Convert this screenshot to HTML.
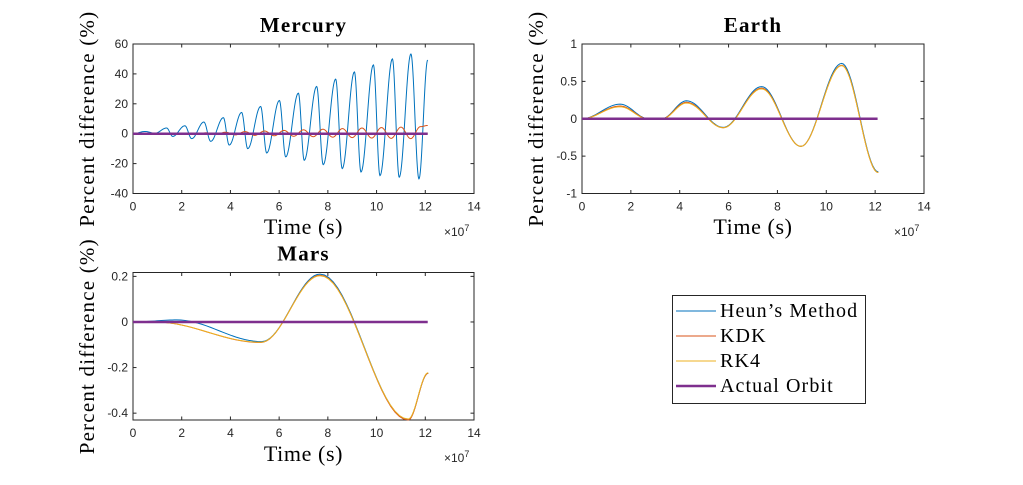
<!DOCTYPE html>
<html><head><meta charset="utf-8"><style>
body{margin:0;background:#fff;width:1023px;height:480px;overflow:hidden}
svg text{font-family:"Liberation Sans",sans-serif}
.tk{font-size:12px;fill:#262626}
.ser{font-family:"Liberation Serif",serif !important;fill:#000}
</style></head><body>
<svg id="chart" width="1023" height="480" viewBox="0 0 1023 480" xmlns="http://www.w3.org/2000/svg"></svg>
<script>
// Mercury data (time in 1e7 s, percent difference) - extrema points
const mercHeunT=[0,0.5,0.9,1.38,1.63,2.13,2.41,2.91,3.19,3.71,3.95,4.46,4.71,5.24,5.49,6.01,6.27,6.79,7.03,7.54,7.81,8.32,8.59,9.09,9.36,9.87,10.14,10.65,10.93,11.41,11.74,12.1];
const mercHeunV=[0,1.5,0.3,3.8,-1.8,5.3,-3.3,7.8,-5.1,10.7,-7.6,14.2,-10,18.2,-12.9,22.2,-15.5,27.1,-17.8,31.6,-20.7,36.5,-23.3,41.3,-25.6,46,-28,50,-29.1,53.3,-30.2,49.3];
const mercKdkT=[0,2.2,2.6,3.0,3.4,3.8,4.2,4.6,5.0,5.4,5.8,6.2,6.6,7.0,7.4,7.8,8.2,8.6,9.0,9.4,9.8,10.2,10.6,11.0,11.4,11.8,12.1];
const mercKdkV=[0,0.3,-0.2,0.6,-0.5,1.0,-0.8,1.4,-1.1,1.8,-1.4,2.2,-1.7,2.6,-2.0,3.0,-2.3,3.4,-2.6,3.8,-2.9,4.1,-3.1,4.4,-3.3,4.7,5.5];
const mercRk4T=[0,12.1];
const mercRk4V=[0,0.3];
// Earth data
const earthHeunT=[0,1.56,2.72,3.26,4.28,5.78,7.35,8.96,10.63,12.13];
const earthHeunV=[0,0.195,0,0,0.24,-0.115,0.43,-0.37,0.74,-0.71];
const earthKdkT=[0,1.56,2.72,3.26,4.28,5.78,7.35,8.96,10.63,12.13];
const earthKdkV=[0,0.17,0,0,0.22,-0.12,0.41,-0.37,0.715,-0.72];
const earthRk4V=[0,0.16,-0.005,-0.005,0.21,-0.12,0.40,-0.37,0.71,-0.72];
// Mars data
const marsHeunT=[0,1.79,5.28,7.68,11.3,12.12];
const marsHeunV=[0,0.009,-0.086,0.21,-0.427,-0.225];
const marsKdkT=[0,0.9,5.25,7.68,11.3,12.12];
const marsKdkV=[0,0,-0.09,0.205,-0.43,-0.225];
// ticks
const xTicks=[0,2,4,6,8,10,12,14];
const mercYTicks=[-40,-20,0,20,40,60];
const earthYTicks=[-1,-0.5,0,0.5,1];
const marsYTicks=[-0.4,-0.2,0,0.2];

const NS="http://www.w3.org/2000/svg";
const svg=document.getElementById('chart');
function el(tag,attrs,parent){const e=document.createElementNS(NS,tag);for(const k in attrs)e.setAttribute(k,attrs[k]);(parent||svg).appendChild(e);return e;}
const C={heun:'#0072BD',kdk:'#D95319',rk4:'#EDB120',act:'#7E2F8E'};

function panel(name,title,box,xmax,ymin,ymax,yTicks,series,xlabY,xexpY){
  const g=el('g',{});
  
  
  const X=t=>box.x0+(t/xmax)*(box.x1-box.x0);
  const Y=v=>box.y1-(v-ymin)/(ymax-ymin)*(box.y1-box.y0);
  const fr=el('rect',{x:box.x0,y:box.y0,width:box.x1-box.x0,height:box.y1-box.y0,fill:'#fff',stroke:'#262626','stroke-width':1},g);
  
  
  xTicks.forEach(t=>{
    const x=X(t);
    el('line',{x1:x,x2:x,y1:box.y1,y2:box.y1-3.5,stroke:'#262626'},g);
    el('line',{x1:x,x2:x,y1:box.y0,y2:box.y0+3.5,stroke:'#262626'},g);
    const tx=el('text',{x:x,y:box.y1+17,'text-anchor':'middle',class:'tk'},g);tx.textContent=t;
    
    
  });
  yTicks.forEach(v=>{
    const y=Y(v);
    el('line',{x1:box.x0,x2:box.x0+3.5,y1:y,y2:y,stroke:'#262626'},g);
    el('line',{x1:box.x1,x2:box.x1-3.5,y1:y,y2:y,stroke:'#262626'},g);
    const tx=el('text',{x:box.x0-5,y:y+4,'text-anchor':'end',class:'tk'},g);tx.textContent=v;
    
    
  });
  series.forEach(s=>{
    let d='';
    const T=s.t,V=s.v;
    for(let i=0;i<T.length-1;i++){
      const n=20;
      for(let k=(i?1:0);k<=n;k++){
        const f=k/n,mu=(1-Math.cos(f*Math.PI))/2;
        const t=T[i]+(T[i+1]-T[i])*f,v=V[i]+(V[i+1]-V[i])*mu;
        d+=(d?'L':'M')+X(t).toFixed(2)+' '+Y(v).toFixed(2);
      }
    }
    const p=el('path',{d:d,fill:'none',stroke:s.c,'stroke-width':s.w||1},g);
    
    
  });
  const tt=el('text',{x:(box.x0+box.x1)/2,y:box.y0-12,'text-anchor':'middle',class:'ser','font-size':21,'font-weight':'bold','letter-spacing':'1.2'},g);tt.textContent=title;
  
  
  const yl=el('text',{x:0,y:0,'text-anchor':'middle',class:'ser','font-size':21,'letter-spacing':'1.2',transform:`translate(${box.x0-39},${(box.y0+box.y1)/2}) rotate(-90)`},g);yl.textContent='Percent difference (%)';
  
  
  const xl=el('text',{x:(box.x0+box.x1)/2,y:xlabY,'text-anchor':'middle',class:'ser','font-size':22,'letter-spacing':'0.6'},g);xl.textContent='Time (s)';
  
  
  const ex=el('text',{x:box.x1-30,y:xexpY,class:'tk','font-size':12},g);
  ex.innerHTML='×10<tspan dy="-5" font-size="9">7</tspan>';
  
  
}
const ACT=[0,12.1],ACTV=[0,0];
panel('mercury','Mercury',{x0:133,x1:474,y0:44,y1:193.5},14,-40,60,mercYTicks,[
 {n:'heun',t:mercHeunT,v:mercHeunV,c:C.heun},
 {n:'kdk',t:mercKdkT,v:mercKdkV,c:C.kdk},
 {n:'rk4',t:mercRk4T,v:mercRk4V,c:C.rk4},
 {n:'actual',t:ACT,v:ACTV,c:C.act,w:2.5}],234,236);
panel('earth','Earth',{x0:582,x1:924,y0:44,y1:193.5},14,-1,1,earthYTicks,[
 {n:'heun',t:earthHeunT,v:earthHeunV,c:C.heun},
 {n:'kdk',t:earthKdkT,v:earthKdkV,c:C.kdk},
 {n:'rk4',t:earthKdkT,v:earthRk4V,c:C.rk4},
 {n:'actual',t:ACT,v:ACTV,c:C.act,w:2.5}],234,236);
panel('mars','Mars',{x0:133,x1:474,y0:272.5,y1:420},14,-0.43,0.217,marsYTicks,[
 {n:'heun',t:marsHeunT,v:marsHeunV,c:C.heun},
 {n:'kdk',t:marsKdkT,v:marsKdkV,c:C.kdk},
 {n:'rk4',t:marsKdkT,v:marsKdkV.map(v=>v*0.99),c:C.rk4},
 {n:'actual',t:ACT,v:ACTV,c:C.act,w:2.5}],461,462);

// legend
const lg=el('g',{});


el('rect',{x:672.5,y:295.5,width:193,height:108,fill:'#fff',stroke:'#262626'},lg);
const entries=[['Heun’s Method',C.heun,1],['KDK',C.kdk,1],['RK4',C.rk4,1],['Actual Orbit',C.act,2.5]];
entries.forEach((e,i)=>{
  const y=311+i*25;
  const g=el('g',{},lg);
  
  
  el('line',{x1:676,x2:716,y1:y,y2:y,stroke:e[1],'stroke-width':e[2]},g);
  const t=el('text',{x:720,y:y+6,class:'ser','font-size':20,'letter-spacing':'1.1'},g);t.textContent=e[0];
});
</script>
</body></html>
